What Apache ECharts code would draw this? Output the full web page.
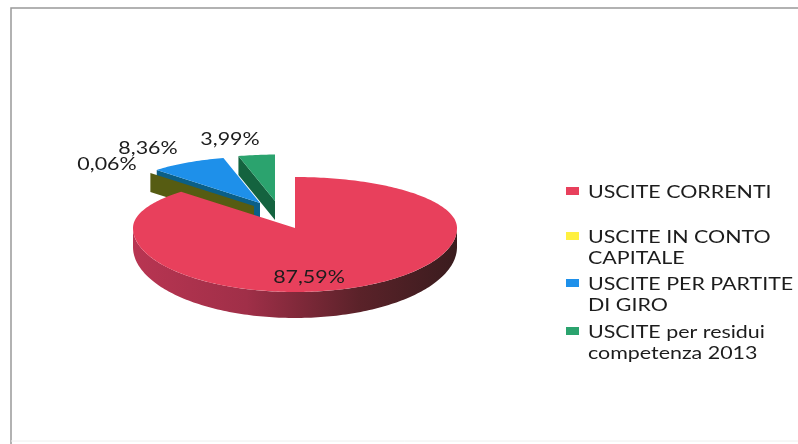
<!DOCTYPE html>
<html><head><meta charset="utf-8">
<style>html,body{margin:0;padding:0;background:#fff}#c{width:798px;height:444px}</style>
<script src="https://cdn.jsdelivr.net/npm/echarts@6/dist/echarts.min.js"></script>
</head><body><div id="c"></div>
<script>
const categories = ['USCITE CORRENTI','USCITE IN CONTO CAPITALE','USCITE PER PARTITE DI GIRO','USCITE per residui competenza 2013'];
const values = [87.59, 0.06, 8.36, 3.99];
const legendLines = [['USCITE CORRENTI'],['USCITE IN CONTO','CAPITALE'],['USCITE PER PARTITE','DI GIRO'],['USCITE per residui','competenza 2013']];
const legendColors = ['#E8405C','#FFF040','#1E90EA','#2BA36E'];
const topColors = ['#E8405C','#FFF040','#1E90EA','#2BA36E'];
const wallColors = ['#8a2b3f','#565C12','#0B5F86','#14633F'];
// presentation: slice explode offset (px), radius scale and label anchor per slice
const explode = [[0,0],[-41,-22],[-35,-25],[-20,-27]];
const sliceScale = [1,0.91,0.91,0.91];
const labelPos = [[309,277],[107,164],[148,148],[230,139]];
const drawOrder = [3,2,1,0];
const PIE = {cx:295, cy:228, rx:162, ryUp:51, ryDown:64, depth:26, depthEdge:19};
const TEXT = {font:'18px Lato', fill:'#1c1c1c', scaleX:1.19};
const total = values.reduce((a,b)=>a+b,0);

function pt(cx,cy,a,sc){
  const s=Math.sin(a), c=Math.cos(a);
  return [cx+sc*PIE.rx*s, cy-sc*(c>0?PIE.ryUp:PIE.ryDown)*c];
}
function depthAt(a){const c=Math.cos(a);return c<0?PIE.depthEdge+(PIE.depth-PIE.depthEdge)*(-c):PIE.depthEdge;}
function arc(cx,cy,a0,a1,sc){
  const n=Math.max(2,Math.ceil((a1-a0)/0.02)),out=[];
  for(let i=0;i<=n;i++)out.push(pt(cx,cy,a0+(a1-a0)*i/n,sc));
  return out;
}
function renderSlice(params,api){
  const i=api.value(0), val=api.value(1);
  let start=0;for(let k=0;k<i;k++)start+=values[k];
  const a0=start/total*2*Math.PI, a1=(start+val)/total*2*Math.PI;
  const cx=PIE.cx+explode[i][0], cy=PIE.cy+explode[i][1], sc=sliceScale[i];
  const children=[];
  const rim=arc(cx,cy,a0,a1,sc);
  if(i>0){
    const p=pt(cx,cy,a0,sc), d=depthAt(a0);
    children.push({type:'polygon',shape:{points:[[cx,cy],p,[p[0],p[1]+d],[cx,cy+d]]},style:{fill:wallColors[i]}});
  }
  const w0=Math.max(a0,Math.PI/2), w1=Math.min(a1,Math.PI*1.5);
  if(w1>w0){
    const top=arc(cx,cy,w0,w1,sc);
    const n=top.length-1;
    const bottom=top.map((p,k)=>[p[0],p[1]+depthAt(w0+(w1-w0)*k/n)]).reverse();
    children.push({type:'polygon',shape:{points:top.concat(bottom)},style:{
      fill:new echarts.graphic.LinearGradient(1,0,0,0,[
        {offset:0,color:'#3a1c1e'},{offset:.3,color:'#5a2229'},{offset:.65,color:'#a02f48'},{offset:1,color:'#b83552'}])}});
  }
  if(i!==1){
    children.push({type:'polygon',shape:{points:[[cx,cy]].concat(rim)},style:{fill:topColors[i]}});
  }
  children.push({type:'text',x:labelPos[i][0],y:labelPos[i][1],scaleX:TEXT.scaleX,z2:100,
    style:{text:val.toFixed(2).replace('.',',')+'%',align:'center',verticalAlign:'middle',fill:TEXT.fill,font:TEXT.font}});
  return {type:'group',children};
}
const series=drawOrder.map(i=>({
  type:'custom',name:categories[i],coordinateSystem:'none',silent:true,animation:false,
  renderItem:renderSlice,data:[[i,values[i]]]
}));
const LEG={x:566,mark:13,tx:588,ys:[191,236,283,331],lh:21.5};
const graphic=[
  {type:'polyline',shape:{points:[[11,444],[11,8],[798,8]]},style:{stroke:'#999',lineWidth:1.5,fill:null}},
  {type:'line',shape:{x1:11,y1:441,x2:798,y2:441},style:{stroke:'#eee',lineWidth:1}}
];
legendLines.forEach((ls,i)=>{
  graphic.push({type:'rect',shape:{x:LEG.x,y:LEG.ys[i]-4,width:LEG.mark,height:8},style:{fill:legendColors[i]}});
  ls.forEach((t,k)=>graphic.push({type:'text',x:LEG.tx,y:LEG.ys[i]+1+k*LEG.lh,scaleX:TEXT.scaleX,
    style:{text:t,verticalAlign:'middle',fill:TEXT.fill,font:TEXT.font}}));
});
const chart=echarts.init(document.getElementById('c'),null,{renderer:'canvas'});
chart.setOption({animation:false,backgroundColor:'#fff',series,graphic});
</script></body></html>
